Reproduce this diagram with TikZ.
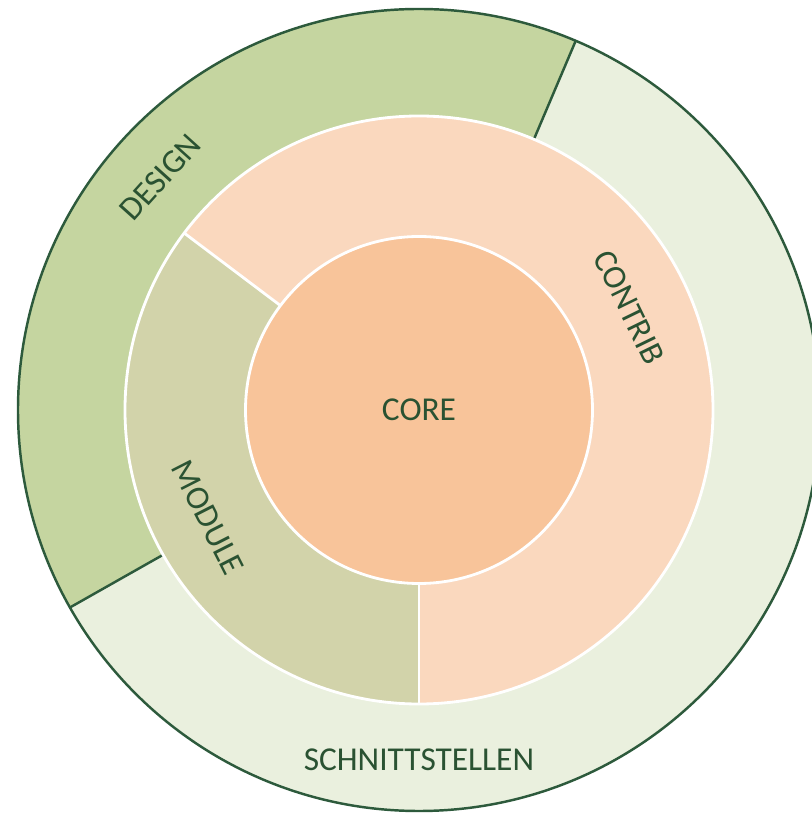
\documentclass[tikz,border=0pt]{standalone}
\usepackage{xcolor}
\usepackage{fontspec}
\setmainfont{Carlito}
\definecolor{eaf0de}{HTML}{EAF0DE}
\definecolor{c5d5a0}{HTML}{C5D5A0}
\definecolor{d2d3aa}{HTML}{D2D3AA}
\definecolor{fad8be}{HTML}{FAD8BE}
\definecolor{f8c49a}{HTML}{F8C49A}
\definecolor{darkline}{HTML}{2D5A3C}
\definecolor{labeltext}{HTML}{2A5232}
\usepackage{tikz}

\begin{document}
\begin{tikzpicture}[label/.style={text=labeltext, font=\fontsize{19}{23}\selectfont},
                    whiteline/.style={white, line width=1.6pt},
                    greenline/.style={darkline, line width=1.4pt}]
                        \useasboundingbox (-8.38, -8.12) rectangle (7.84, 8.2);

                        \fill[eaf0de] (0, 0) circle (8.02);
                        \fill[c5d5a0] (0, 0) -- (67:8.02) arc[start angle=67, end angle=209.5, radius=8.02] -- cycle;
                        \draw[greenline] (67:5.88) -- (67:8.02);
                        \draw[greenline] (209.5:5.88) -- (209.5:8.02);
                        \draw[greenline] (0, 0) circle (8.02);

                        \fill[fad8be] (0, 0) circle (5.88);
                        \fill[d2d3aa] (0, 0) -- (143:5.88) arc[start angle=143, end angle=270, radius=5.88] -- cycle;
                        \draw[whiteline] (143:3.47) -- (143:5.88);
                        \draw[whiteline] (270:3.47) -- (270:5.88);
                        \draw[whiteline] (0, 0) circle (5.88);

                        \fill[f8c49a] (0, 0) circle (3.47);
                        \draw[whiteline] (0, 0) circle (3.47);

                        \node (core) at (0, 0) [label] {CORE};
                        \node (contrib) at (26:4.68) [label, rotate=-64] {CONTRIB};
                        \node (module) at (207:4.74) [label, rotate=-63] {MODULE};
                        \node (design) at (138:6.96) [label, rotate=48] {DESIGN};
                        \node (schnittstellen) at (270:7.0) [label] {SCHNITTSTELLEN};
                    \end{tikzpicture}
\end{document}
